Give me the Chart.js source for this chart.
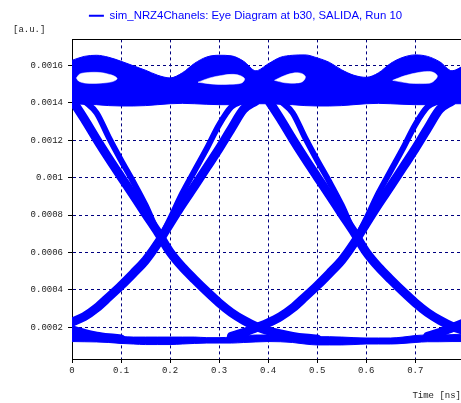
<!DOCTYPE html>
<html>
<head>
<meta charset="utf-8">
<script src="https://cdn.jsdelivr.net/npm/chart.js@4.4.1/dist/chart.umd.min.js"></script>
<style>
  html, body { margin: 0; padding: 0; background: #fff; overflow: hidden; }
  #wrap { width: 461px; height: 403px; }
</style>
</head>
<body>
<div id="wrap"><canvas id="eyeChart"></canvas></div>
<script>
// Eye diagram of sim_NRZ4Chanels at b30
const legendText = 'sim_NRZ4Chanels: Eye Diagram at b30, SALIDA, Run 10';

// sample times (ns) shared by all traces
const timeNs = [0, 0.025, 0.05, 0.075, 0.1, 0.125, 0.15, 0.175, 0.2, 0.225, 0.25, 0.275, 0.3, 0.325, 0.35, 0.375,
  0.4, 0.425, 0.45, 0.475, 0.5, 0.525, 0.55, 0.575, 0.6, 0.625, 0.65, 0.675, 0.7, 0.725, 0.75, 0.775, 0.8];

// "1" level band: upper and lower edge
const topBandHigh = [0.001627, 0.001648, 0.001654, 0.001643, 0.001622, 0.001598, 0.001574, 0.001547, 0.001533, 0.00156,
  0.001611, 0.001645, 0.001654, 0.001651, 0.001622, 0.001571, 0.001608, 0.001643, 0.001654, 0.001656,
  0.00164, 0.001616, 0.001576, 0.001547, 0.001536, 0.00156, 0.001611, 0.001643, 0.001656, 0.001648,
  0.001619, 0.001571, 0.0016];
const topBandLow = [0.001395, 0.001392, 0.00139, 0.001385, 0.001383, 0.001383, 0.001385, 0.00139, 0.001395, 0.001397,
  0.001395, 0.001392, 0.00139, 0.00139, 0.001392, 0.001395, 0.001395, 0.001392, 0.00139, 0.001385,
  0.001383, 0.001383, 0.001385, 0.00139, 0.001395, 0.001397, 0.001395, 0.001392, 0.00139, 0.00139,
  0.001392, 0.001395, 0.001395];

// "0" level band
const bottomBandHigh = [0.000167, 0.000161, 0.000156, 0.000154, 0.000151, 0.000148, 0.000148, 0.000148, 0.000148, 0.000148,
  0.000148, 0.000145, 0.000145, 0.000148, 0.000154, 0.000159, 0.000159, 0.000151, 0.000148, 0.00015,
  0.00015, 0.00015, 0.000148, 0.000145, 0.000143, 0.000143, 0.000143, 0.000148, 0.000156, 0.000159,
  0.000159, 0.000161, 0.000164];
const bottomBandLow = [0.000124, 0.000123, 0.000122, 0.000119, 0.000114, 0.000111, 0.000108, 0.000108, 0.000108, 0.000111,
  0.000114, 0.000116, 0.000116, 0.000116, 0.000119, 0.000122, 0.000124, 0.000123, 0.000119, 0.000111,
  0.000106, 0.000106, 0.000106, 0.000108, 0.000111, 0.000111, 0.000111, 0.000114, 0.000119, 0.000123,
  0.000123, 0.000124, 0.000124];

// transitions, first unit interval
const fallOuter1 = [0.001415, 0.001314, 0.001206, 0.001103, 0.001004, 0.000906, 0.000806, 0.000708, 0.000602, 0.000522,
  0.000455, 0.000391, 0.000331, 0.000279, 0.000238, 0.000205, 0.000182, 0.000165, 0.000152, 0.000143,
  0.000138, null, null, null, null, null, null, null, null, null, null, null, null];
const fallInner1 = [null, 0.00141, 0.001346, 0.001215, 0.001093, 0.000977, 0.000853, 0.000708, 0.000602, null,
  null, null, null, null, null, null, null, null, null, null, null, null, null, null, null, null, null, null,
  null, null, null, null, null];
const riseOuter1 = [0.000228, 0.000257, 0.000303, 0.000362, 0.000423, 0.000489, 0.000558, 0.000649, 0.000755, 0.000858,
  0.000955, 0.001055, 0.001155, 0.001262, 0.001365, 0.00141, null, null, null, null, null, null, null, null,
  null, null, null, null, null, null, null, null, null];
const riseInner1 = [null, null, null, null, null, null, null, 0.000649, 0.00078, 0.000917, 0.001037, 0.001156, 0.001283,
  0.001378, 0.00141, null, null, null, null, null, null, null, null, null, null, null, null, null, null, null,
  null, null, null];

// transitions, second unit interval
const fallOuter2 = [null, null, null, null, null, null, null, null, null, null, null, null, null, null, null, null,
  0.001415, 0.001314, 0.001206, 0.001103, 0.001004, 0.000906, 0.000806, 0.000708, 0.000602, 0.000522,
  0.000455, 0.000391, 0.000331, 0.000279, 0.000238, 0.000205, 0.000182];
const fallInner2 = [null, null, null, null, null, null, null, null, null, null, null, null, null, null, null, null, null,
  0.00141, 0.001346, 0.001215, 0.001093, 0.000977, 0.000853, 0.000708, 0.000602, null, null, null, null, null,
  null, null, null];
const riseOuter2 = [null, null, null, null, null, null, null, null, null, null, null, null, null,
  0.000152, 0.000172, 0.000198, 0.000224, 0.000257, 0.000303, 0.000362, 0.000423, 0.000489, 0.000558, 0.000649,
  0.000755, 0.000858, 0.000955, 0.001055, 0.001155, 0.001262, 0.001365, 0.00141, null];
const riseInner2 = [null, null, null, null, null, null, null, null, null, null, null, null, null, null, null, null, null,
  null, null, null, null, null, null, 0.000649, 0.00078, 0.000917, 0.001037, 0.001156, 0.001283, 0.001378,
  0.00141, null, null];

// pieces of the neighbouring intervals at both edges
const fallTail0 = [0.000186, 0.000168, 0.000153, 0.000144, 0.000138, null, null, null, null, null, null, null, null,
  null, null, null, null, null, null, null, null, null, null, null, null, null, null, null, null, null, null,
  null, null];
const riseStart3 = [null, null, null, null, null, null, null, null, null, null, null, null, null, null, null, null,
  null, null, null, null, null, null, null, null, null, null, null, null, null, 0.000152, 0.000172, 0.000198,
  0.000224];

// open areas inside the "1" band (outlines)
const hole1T = [0.009, 0.016, 0.033, 0.057, 0.073, 0.086, 0.092, 0.081, 0.057, 0.029, 0.014, 0.009];
const hole1Y = [0.001533, 0.001554, 0.001562, 0.001562, 0.001554, 0.001543, 0.001528, 0.001512, 0.001505, 0.001505, 0.001515, 0.001533];
const hole2T = [0.257, 0.281, 0.305, 0.326, 0.342, 0.352, 0.346, 0.322, 0.291, 0.257];
const hole2Y = [0.00151, 0.001533, 0.001546, 0.001552, 0.001546, 0.001528, 0.001506, 0.001499, 0.001499, 0.00151];
const hole3T = [0.413, 0.434, 0.454, 0.468, 0.476, 0.47, 0.454, 0.434, 0.413];
const hole3Y = [0.00152, 0.001546, 0.00156, 0.001557, 0.001539, 0.001513, 0.001505, 0.001507, 0.00152];
const hole4T = [0.654, 0.678, 0.709, 0.733, 0.745, 0.739, 0.729, 0.688, 0.654];
const hole4Y = [0.00152, 0.001544, 0.001563, 0.001566, 0.001545, 0.001519, 0.001505, 0.001505, 0.00152];

// axes
const xTickValues = [0, 0.1, 0.2, 0.3, 0.4, 0.5, 0.6, 0.7];
const xTickLabels = ['0', '0.1', '0.2', '0.3', '0.4', '0.5', '0.6', '0.7'];
const yTickValues = [0.0002, 0.0004, 0.0006, 0.0008, 0.001, 0.0012, 0.0014, 0.0016];
const yTickLabels = ['0.0002', '0.0004', '0.0006', '0.0008', '0.001', '0.0012', '0.0014', '0.0016'];
const xMax = 0.7933;
const yMin = 0.0000308;
const yMax = 0.0017388;

const blue = '#0000ff';
const gridColor = '#000080';
const monoFont = { family: "'Liberation Mono', monospace", size: 9 };

function trace(values) {
  return timeNs.map((t, i) => ({ x: t, y: values[i] }));
}

function outline(ts, ys) {
  return ts.map((t, i) => ({ x: t, y: ys[i] }));
}

function band(values, fillMode) {
  return {
    data: trace(values),
    borderColor: blue,
    borderWidth: 1,
    backgroundColor: blue,
    fill: fillMode,
    cubicInterpolationMode: 'monotone',
    pointRadius: 0,
    clip: 0,
    order: 10
  };
}

function hole(ts, ys) {
  return {
    data: outline(ts, ys),
    borderColor: '#ffffff',
    borderWidth: 0.5,
    backgroundColor: '#ffffff',
    fill: 'shape',
    tension: 0.35,
    pointRadius: 0,
    clip: 0,
    order: 5
  };
}

function edge(values, width) {
  return {
    data: trace(values),
    borderColor: blue,
    borderWidth: width,
    borderJoinStyle: 'round',
    borderCapStyle: 'round',
    cubicInterpolationMode: 'monotone',
    pointRadius: 0,
    fill: false,
    clip: 0,
    order: 1
  };
}

// small unit label above the y axis
const unitLabel = {
  id: 'unitLabel',
  afterDraw(chart) {
    const c = chart.ctx;
    c.save();
    c.font = "9px 'Liberation Mono', monospace";
    c.fillStyle = '#222';
    c.textBaseline = 'middle';
    c.textAlign = 'left';
    c.fillText('[a.u.]', 13, 30);
    c.restore();
  }
};

const ctx = document.getElementById('eyeChart').getContext('2d');

new Chart(ctx, {
  type: 'line',
  data: {
    datasets: [
      band(topBandHigh, '+1'),
      band(topBandLow, false),
      band(bottomBandHigh, '+1'),
      band(bottomBandLow, false),
      hole(hole1T, hole1Y),
      hole(hole2T, hole2Y),
      hole(hole3T, hole3Y),
      hole(hole4T, hole4Y),
      edge(fallOuter1, 9),
      edge(fallInner1, 6),
      edge(riseOuter1, 9),
      edge(riseInner1, 6),
      edge(fallOuter2, 9),
      edge(fallInner2, 6),
      edge(riseOuter2, 9),
      edge(riseInner2, 6),
      edge(fallTail0, 9),
      edge(riseStart3, 9)
    ]
  },
  options: {
    responsive: true,
    maintainAspectRatio: false,
    animation: false,
    devicePixelRatio: 1,
    events: [],
    layout: { padding: { left: 30, right: 0, top: 0, bottom: 0 } },
    scales: {
      x: {
        type: 'linear',
        min: 0,
        max: xMax,
        afterBuildTicks: (axis) => { axis.ticks = xTickValues.map(v => ({ value: v })); },
        afterFit: (axis) => { axis.height = 44; },
        ticks: {
          callback: (v, i) => xTickLabels[i],
          font: monoFont,
          color: '#222',
          padding: 2,
          maxRotation: 0,
          autoSkip: false
        },
        grid: { color: gridColor, lineWidth: 1, tickLength: 4, tickColor: '#000' },
        border: { display: true, color: '#000', dash: [3, 3] },
        title: {
          display: true,
          text: 'Time [ns]',
          align: 'end',
          font: monoFont,
          color: '#222',
          padding: { top: 0, bottom: 2 }
        }
      },
      x2: {
        type: 'linear',
        position: 'top',
        min: 0,
        max: xMax,
        grid: { display: false, drawTicks: false },
        ticks: { display: false },
        border: { display: true, color: '#000' },
        afterFit: (axis) => { axis.height = 8; }
      },
      y: {
        type: 'linear',
        min: yMin,
        max: yMax,
        afterBuildTicks: (axis) => { axis.ticks = yTickValues.map(v => ({ value: v })); },
        afterFit: (axis) => { axis.width = 42; },
        ticks: {
          callback: (v, i) => yTickLabels[i],
          font: monoFont,
          color: '#222',
          padding: 5
        },
        grid: { color: gridColor, lineWidth: 1, tickLength: 4, tickColor: '#000' },
        border: { display: true, color: '#000', dash: [3, 3] }
      }
    },
    plugins: {
      legend: {
        position: 'top',
        onClick: null,
        labels: {
          boxWidth: 15,
          boxHeight: 2,
          padding: 10,
          color: blue,
          font: { family: "'Liberation Sans', Arial, sans-serif", size: 11.4 },
          generateLabels: () => [{
            text: legendText,
            fillStyle: blue,
            strokeStyle: blue,
            fontColor: blue,
            lineWidth: 0,
            hidden: false,
            datasetIndex: 0
          }]
        }
      },
      tooltip: { enabled: false }
    }
  },
  plugins: [unitLabel]
});
</script>
</body>
</html>
